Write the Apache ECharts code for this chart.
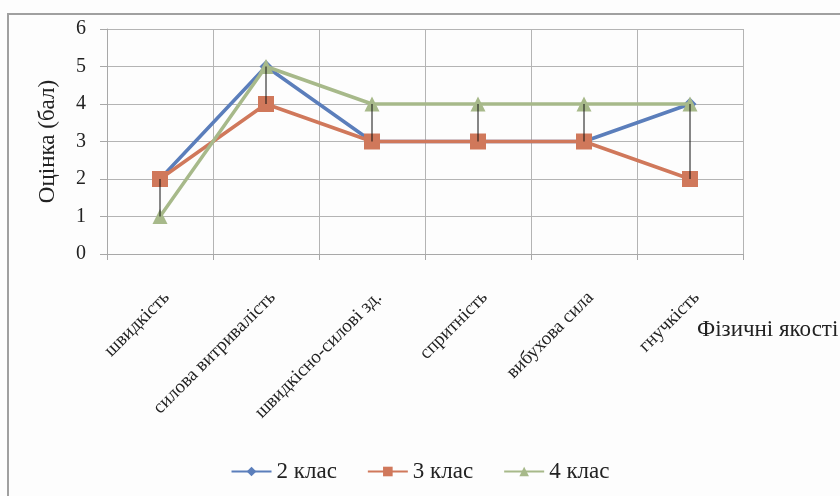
<!DOCTYPE html>
<html>
<head>
<meta charset="utf-8">
<script src="https://cdn.jsdelivr.net/npm/echarts@6/dist/echarts.min.js"></script>
<style>html,body{margin:0;padding:0;background:#fdfdfd;}#c{width:840px;height:496px;}
#pre{position:absolute;left:-9999px;top:0;font-family:"Liberation Serif";font-size:20px;}</style>
</head>
<body>
<div id="pre">Оцінка 0123 Фізичні якості</div>
<div id="c"></div>
<script>
const categories = ['швидкість', 'силова витривалість', 'швидкісно-силові зд.', 'спритність', 'вибухова сила', 'гнучкість'];
const class2 = [2, 5, 3, 3, 3, 4];
const class3 = [2, 4, 3, 3, 3, 2];
const class4 = [1, 5, 4, 4, 4, 4];
const seriesNames = ['2 клас', '3 клас', '4 клас'];
const yTicks = [0, 1, 2, 3, 4, 5, 6];

const hiLo = categories.map((c, i) => {
  const v = [class2[i], class3[i], class4[i]];
  return [i, Math.max(...v), Math.min(...v)];
});

function buildOption(ff) {
  return {
    backgroundColor: '#fdfdfd',
    animation: false,
    textStyle: { fontFamily: ff },
    grid: { left: 107, right: 97, top: 29, bottom: 242 },
    graphic: [
      { type: 'rect', shape: { x: 8, y: 14, width: 900, height: 600 }, style: { fill: 'none', stroke: '#a0a0a0', lineWidth: 2 }, silent: true },
      { type: 'text', left: 697, top: 318, style: { text: 'Фізичні якості', fontFamily: ff, fontSize: 23, fill: '#222' } }
    ],
    legend: {
      bottom: 8, left: 'center',
      data: seriesNames,
      itemWidth: 40, itemHeight: 12, itemGap: 30,
      textStyle: { fontFamily: ff, fontSize: 23, color: '#222' }
    },
    xAxis: {
      type: 'category', data: categories, boundaryGap: true,
      axisLine: { lineStyle: { color: '#a8a8a8' } },
      axisTick: { show: true, length: 6, lineStyle: { color: '#a8a8a8' } },
      splitLine: { show: true, lineStyle: { color: '#b4b4b4' } },
      axisLabel: { rotate: 45, margin: 34, fontFamily: ff, fontSize: 19, color: '#222', interval: 0, verticalAlign: 'top' }
    },
    yAxis: {
      type: 'value', min: yTicks[0], max: yTicks[yTicks.length - 1], interval: 1,
      name: 'Оцінка (бал)', nameLocation: 'middle', nameGap: 48, nameRotate: 90,
      nameTextStyle: { fontFamily: ff, fontSize: 23, color: '#222' },
      axisLine: { show: true, lineStyle: { color: '#a8a8a8' } },
      axisTick: { show: true, length: 7, lineStyle: { color: '#a8a8a8' } },
      splitLine: { show: true, lineStyle: { color: '#b4b4b4' } },
      axisLabel: { margin: 21, fontFamily: ff, fontSize: 20, color: '#222' }
    },
    series: [
      { name: seriesNames[0], type: 'line', data: class2, symbol: 'diamond', symbolSize: 13,
        itemStyle: { color: '#5b7ebb' }, lineStyle: { width: 3.5, color: '#5b7ebb' }, z: 2 },
      { name: seriesNames[1], type: 'line', data: class3, symbol: 'rect', symbolSize: 16,
        itemStyle: { color: '#d0785b' }, lineStyle: { width: 3.5, color: '#d0785b' }, z: 3 },
      { name: seriesNames[2], type: 'line', data: class4, symbol: 'triangle', symbolSize: 15,
        itemStyle: { color: '#a7b98a' }, lineStyle: { width: 3.5, color: '#a7b98a' }, z: 4 },
      { name: 'hilo', type: 'custom', data: hiLo, z: 10, silent: true,
        encode: { x: 0, y: [1, 2] },
        renderItem: function (params, api) {
          const a = api.coord([api.value(0), api.value(1)]);
          const b = api.coord([api.value(0), api.value(2)]);
          return { type: 'line', shape: { x1: a[0], y1: a[1], x2: b[0], y2: b[1] }, style: { stroke: '#111', lineWidth: 1 } };
        }
      }
    ]
  };
}

const chart = echarts.init(document.getElementById('c'));
chart.setOption(buildOption('Liberation Serif'));

if (document.fonts && document.fonts.load) {
  Promise.all([
    document.fonts.load('19px "Liberation Serif"', 'швидкість 0123'),
    document.fonts.load('23px "Liberation Serif"', 'Фізичні якості')
  ]).then(function () {
    chart.clear();
    chart.setOption(buildOption('"Liberation Serif", serif'), true);
  });
}
</script>
</body>
</html>
